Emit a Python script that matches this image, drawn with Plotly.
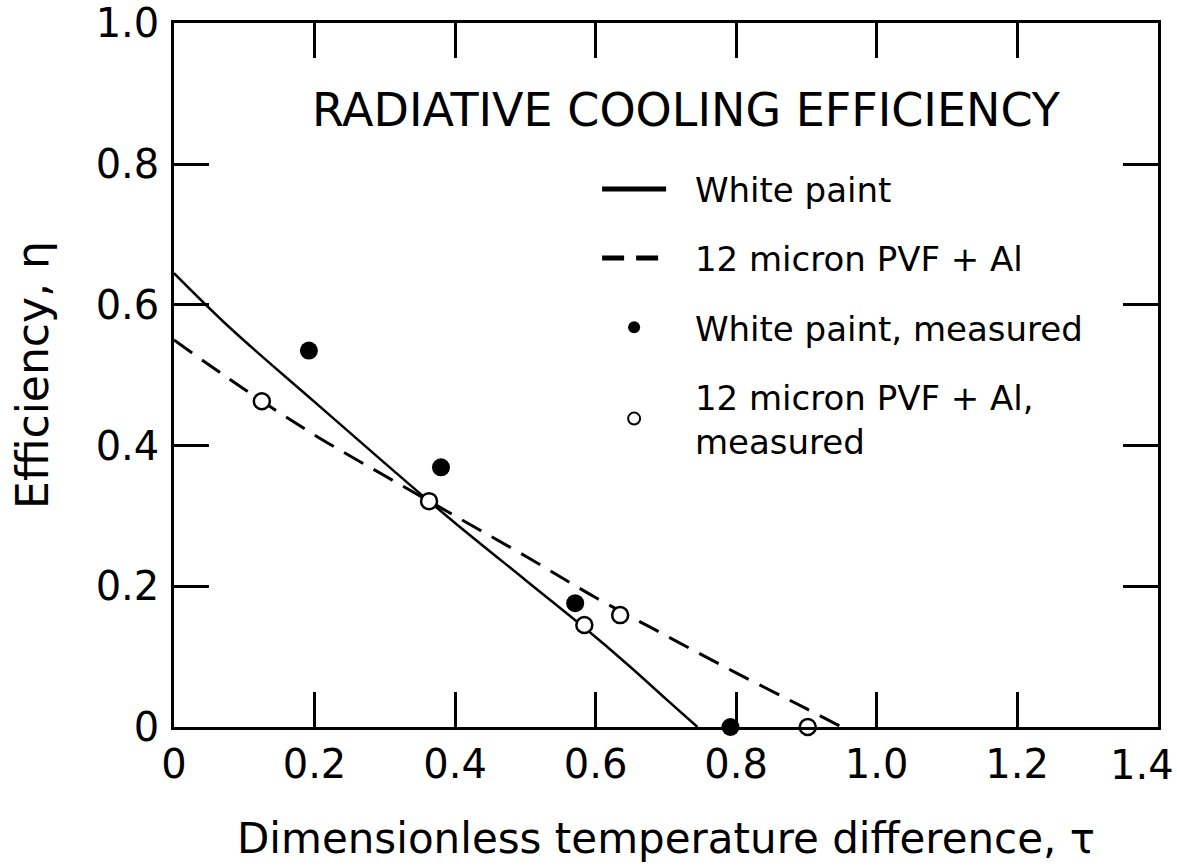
import plotly.graph_objects as go

# Theory curves
white_tau = [0.0, 0.08, 0.2, 0.3, 0.35, 0.4, 0.5, 0.583, 0.65, 0.7, 0.745]
white_eta = [0.645, 0.567, 0.462, 0.375, 0.332, 0.29, 0.209, 0.142, 0.085, 0.04, 0.0]

pvf_tau = [0.0, 0.1, 0.2, 0.3, 0.4, 0.5, 0.6, 0.7, 0.8, 0.9, 0.95]
pvf_eta = [0.55, 0.48, 0.415, 0.357, 0.30, 0.243, 0.184, 0.13, 0.077, 0.026, 0.0]

# Measured points
white_meas_tau = [0.192, 0.380, 0.571, 0.792]
white_meas_eta = [0.535, 0.369, 0.176, 0.0]

pvf_meas_tau = [0.125, 0.363, 0.584, 0.635, 0.902]
pvf_meas_eta = [0.463, 0.321, 0.145, 0.159, 0.0]

x_ticks = [0, 0.2, 0.4, 0.6, 0.8, 1.0, 1.2, 1.4]
x_ticktext = ["0", "0.2", "0.4", "0.6", "0.8", "1.0", "1.2", "1.4"]
y_ticks = [0, 0.2, 0.4, 0.6, 0.8, 1.0]
y_ticktext = ["0", "0.2", "0.4", "0.6", "0.8", "1.0"]

FONT = "'DejaVu Sans', sans-serif"
SP = "\u2002\u2009"

fig = go.Figure()
fig.add_trace(go.Scatter(x=white_tau, y=white_eta, mode="lines", name=SP + "White paint",
                         line=dict(color="black", width=2.5, shape="spline"),
                         legendgroup="a"))
fig.add_trace(go.Scatter(x=pvf_tau, y=pvf_eta, mode="lines", name=SP + "12 micron PVF + Al",
                         line=dict(color="black", width=3, dash="22px,12px", shape="spline"),
                         legendgroup="b"))
fig.add_trace(go.Scatter(x=white_meas_tau, y=white_meas_eta, mode="markers",
                         name=SP + "White paint, measured",
                         marker=dict(symbol="circle", size=18, color="black"),
                         cliponaxis=False, legendgroup="c"))
fig.add_trace(go.Scatter(x=pvf_meas_tau, y=pvf_meas_eta, mode="markers",
                         name=SP + "12 micron PVF + Al,<br>" + SP + "measured",
                         marker=dict(symbol="circle", size=16, color="white",
                                     line=dict(color="black", width=2.5)),
                         cliponaxis=False, legendgroup="d"))

fig.add_annotation(text="RADIATIVE COOLING EFFICIENCY", x=0.521, y=0.876,
                   xref="paper", yref="paper", showarrow=False,
                   xanchor="center", yanchor="middle",
                   font=dict(size=46, color="black", family=FONT))

# last x tick label drawn slightly left of its tick, as in the original
fig.add_annotation(text=x_ticktext[-1], x=x_ticks[-1], xref="x", y=0, yref="paper",
                   showarrow=False, xanchor="center", yanchor="middle",
                   xshift=-16, yshift=-38,
                   font=dict(size=40, color="black", family=FONT))

axis_common = dict(showline=True, linecolor="black", linewidth=2.5, mirror="ticks",
                   ticks="inside", ticklen=35, tickwidth=2.5, tickcolor="black",
                   showgrid=False, zeroline=False, automargin=False,
                   ticklabeloverflow="allow",
                   tickfont=dict(size=40, color="black", family=FONT))

fig.update_xaxes(range=[0, 1.4005], tickvals=x_ticks,
                 ticktext=x_ticktext[:-1] + [""],
                 title=dict(text="Dimensionless temperature difference, τ",
                            font=dict(size=42, color="black", family=FONT), standoff=38),
                 **axis_common)
fig.update_yaxes(range=[0, 1.0005], tickvals=y_ticks, ticktext=y_ticktext,
                 ticklabelstandoff=4,
                 title=dict(text="Efficiency, η",
                            font=dict(size=44, color="black", family=FONT), standoff=34),
                 **axis_common)

fig.update_layout(
    width=1177, height=866,
    margin=dict(l=174, r=19, t=23, b=139),
    plot_bgcolor="white", paper_bgcolor="white",
    font=dict(family=FONT, color="black"),
    legend=dict(x=0.43, y=0.805, xanchor="left", yanchor="top",
                font=dict(size=34, color="black", family=FONT),
                bgcolor="rgba(0,0,0,0)", itemwidth=64, tracegroupgap=22,
                itemsizing="constant"),
    showlegend=True,
)

fig.write_html("out.html", config={"displayModeBar": False},
               post_script="document.body.style.margin='0';document.body.style.overflow='hidden';")
